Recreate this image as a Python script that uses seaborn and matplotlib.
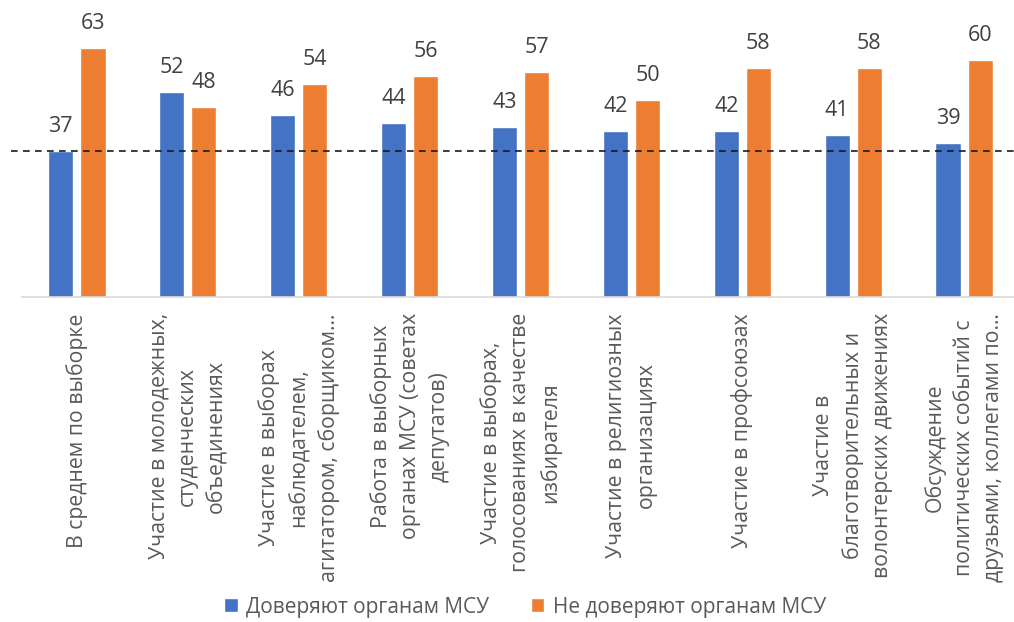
import matplotlib
matplotlib.use("Agg")
import matplotlib.pyplot as plt
import seaborn as sns
import pandas as pd
from matplotlib.patches import Patch

categories = [
    "В среднем по выборке",
    "Участие в молодежных,\nстуденческих\nобъединениях",
    "Участие в выборах\nнаблюдателем,\nагитатором, сборщиком…",
    "Работа в выборных\nорганах МСУ (советах\nдепутатов)",
    "Участие в выборах,\nголосованиях в качестве\nизбирателя",
    "Участие в религиозных\nорганизациях",
    "Участие в профсоюзах",
    "Участие в\nблаготворительных и\nволонтерских движениях",
    "Обсуждение\nполитических событий с\nдрузьями, коллегами по…",
]
trust = [37, 52, 46, 44, 43, 42, 42, 41, 39]
distrust = [63, 48, 54, 56, 57, 50, 58, 58, 60]
series_names = ["Доверяют органам МСУ", "Не доверяют органам МСУ"]
reference_level = 37

colors = ["#4472C4", "#ED7D31"]
text_gray = "#595959"
label_dark = "#404040"

df = pd.DataFrame({
    "cat": categories * 2,
    "val": trust + distrust,
    "series": [series_names[0]] * len(categories) + [series_names[1]] * len(categories),
})

sns.set_theme(style="white")
plt.rcParams["font.family"] = ["Open Sans", "DejaVu Sans"]

W, H = 1014, 622
fig = plt.figure(figsize=(W / 100, H / 100), dpi=100)
left_px, right_px, bottom_px, top_px = 21.5, 1019.5, 296.5, 20.7
ax = fig.add_axes([left_px / W, 1 - bottom_px / H, (right_px - left_px) / W, (bottom_px - top_px) / H])

sns.barplot(data=df, x="cat", y="val", hue="series", palette=colors, ax=ax,
            width=0.58, gap=0.22, dodge=True, legend=False, saturation=1)

ax.set_ylim(0, 70)
ax.set_xlim(-0.5, 8.5)
for c in ax.containers:
    ax.bar_label(c, padding=10, fontsize=15.5, color=label_dark)

ax.axhline(reference_level, xmin=-0.011, xmax=1.0, color="#1a1a1a", lw=1.2,
           ls=(0, (4, 3.2)), clip_on=False, zorder=5)

for s in ["top", "right", "left"]:
    ax.spines[s].set_visible(False)
ax.spines["bottom"].set_color("#D9D9D9")
ax.spines["bottom"].set_linewidth(1.2)
ax.set_yticks([])
ax.set_xlabel("")
ax.set_ylabel("")
ax.set_xticks(range(len(categories)))
ax.set_xticklabels(categories, rotation=90, ha="center", va="top",
                   multialignment="center", fontsize=15.3, color=text_gray,
                   linespacing=1.5)
ax.tick_params(axis="x", length=0, pad=12)

handles = [Patch(facecolor=colors[0]), Patch(facecolor=colors[1])]
fig.legend(handles, series_names, loc="center", bbox_to_anchor=(525 / W, 1 - 607 / H),
           ncol=2, frameon=False, fontsize=15, labelcolor=text_gray,
           handlelength=0.65, handleheight=0.65, handletextpad=0.4, columnspacing=2.0)

fig.savefig("out.png", dpi=100)
